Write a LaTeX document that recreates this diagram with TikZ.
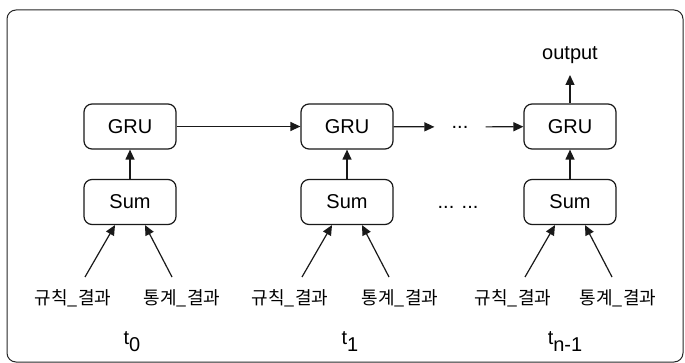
\documentclass[tikz,border=0pt]{standalone}
\usepackage{fontspec}
\setmainfont{Liberation Sans}
\newfontfamily\kor{Noto Sans CJK KR}
\usetikzlibrary{arrows.meta,calc}

\begin{document}
\begin{tikzpicture}[x=1pt,y=-1pt,
  line width=1.2pt,
  box/.style={draw=black!90, rounded corners=8pt, minimum width=92pt, minimum height=45pt,
              inner sep=0pt, font=\fontsize{20}{22}\selectfont},
  lbl/.style={font=\fontsize{20}{22}\selectfont, inner sep=0pt},
  inp/.style={font=\kor\fontsize{18}{20}\selectfont, inner sep=0pt},
  arr/.style={-{Triangle[length=10pt,width=9pt]}, draw=black!90},
]
\useasboundingbox (0,0) rectangle (685,363);
% frame
\draw[black!85, line width=1pt, rounded corners=9pt] (7,10) rectangle (683,362);

% GRU cells and sum blocks
\node[box] (g0) at (130,126.5) {GRU};
\node[box] (g1) at (347,126.5) {GRU};
\node[box] (g2) at (570,126.5) {GRU};
\node[box] (s0) at (130,202) {Sum};
\node[box] (s1) at (347,202) {Sum};
\node[box] (s2) at (570,202) {Sum};

% recurrent links
\node[lbl, minimum width=50pt] (dots) at (460,127) {...};
\draw[arr] (g0) -- (g1);
\draw[arr] (g1) -- (dots);
\draw[arr] (dots) -- (g2);
\node[lbl] (dd) at (458,207) {... ...};

% vertical links
\draw[arr] (s0) -- (g0);
\draw[arr] (s1) -- (g1);
\draw[arr] (s2) -- (g2);
\coordinate (otip) at (570,75);
\draw[arr] (g2.north) -- (otip);
\node[lbl] (out) at (570,55) {output};

% inputs
\foreach \c/\n/\xl/\xr in {130/0/73/182, 347/1/290/400, 570/2/513/618}{
  \node[inp] (r\n) at (\xl,298) {규칙\_결과};
  \node[inp] (st\n) at (\xr,298) {통계\_결과};
  \coordinate (rl\n) at (\c-45,277);
  \coordinate (rr\n) at (\c+42,277);
  \draw[arr] (rl\n) -- ($(s\n.south)+(-15,0)$);
  \draw[arr] (rr\n) -- ($(s\n.south)+(15,0)$);
}

% time steps
\node[lbl] (t0) at (132,342) {t\raisebox{-7pt}{0}};
\node[lbl] (t1) at (350,342) {t\raisebox{-7pt}{1}};
\node[lbl] (t2) at (565,342) {t\raisebox{-7pt}{n-1}};
\end{tikzpicture}
\end{document}
